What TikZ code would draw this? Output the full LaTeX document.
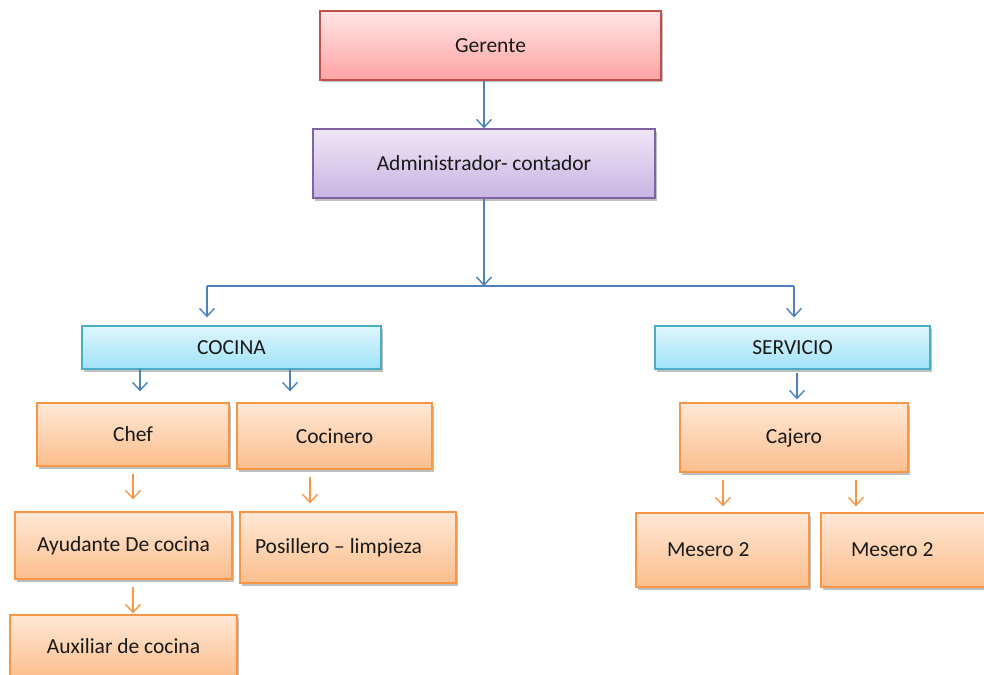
\documentclass[tikz,border=0pt]{standalone}
\usepackage{fontspec}
\setmainfont{Carlito}
\usetikzlibrary{arrows.meta,shadows}

\definecolor{redline}{RGB}{192,80,77}
\definecolor{redtop}{RGB}{255,228,228}
\definecolor{redbot}{RGB}{255,163,163}
\definecolor{purline}{RGB}{128,100,162}
\definecolor{purtop}{RGB}{238,230,246}
\definecolor{purbot}{RGB}{200,180,226}
\definecolor{cyanline}{RGB}{75,172,198}
\definecolor{cyantop}{RGB}{222,246,253}
\definecolor{cyanbot}{RGB}{160,226,248}
\definecolor{orline}{RGB}{247,150,70}
\definecolor{ortop}{RGB}{255,232,214}
\definecolor{orbot}{RGB}{251,190,140}
\definecolor{bluearrow}{RGB}{79,129,189}

\tikzset{
  x=1pt, y=-1pt,
  box/.style={draw, line width=1.3pt, font=\fontsize{21.5}{24}\selectfont,
    inner sep=0pt, text=black!90,
    drop shadow={shadow xshift=1.5pt, shadow yshift=-2.5pt, opacity=0.25, fill=black}},
  redbox/.style={box, draw=redline, top color=redtop, bottom color=redbot},
  purbox/.style={box, draw=purline, top color=purtop, bottom color=purbot},
  cyanbox/.style={box, draw=cyanline, top color=cyantop, bottom color=cyanbot},
  orbox/.style={box, draw=orline, top color=ortop, bottom color=orbot},
  padleft/.style 2 args={align=flush left, text width=#1, inner xsep=#2},
  barrow/.style={draw=bluearrow, line width=1.4pt,
    -{Straight Barb[length=8pt,width=15pt,line width=1.4pt]}},
  bline/.style={draw=bluearrow, line width=1.4pt},
  oarrow/.style={draw=orline, line width=1.4pt,
    -{Straight Barb[length=8pt,width=15pt,line width=1.4pt]}},
}

\begin{document}
\begin{tikzpicture}
\path[use as bounding box] (0,0) rectangle (984,674);
\clip (0,0) rectangle (984,674);

% management
\node[redbox, minimum width=341pt, minimum height=69pt] (ger) at (490.5,45.5) {Gerente};
\node[purbox, minimum width=342pt, minimum height=69pt] (adm) at (484,163.5) {Administrador- contador};

% departments
\node[cyanbox, minimum width=299pt, minimum height=43pt] (coc) at (231.5,347.5) {COCINA};
\node[cyanbox, minimum width=275pt, minimum height=43pt] (ser) at (792.5,347.5) {SERVICIO};

% kitchen staff
\node[orbox, minimum width=192pt, minimum height=63pt] (chef) at (133,434.5) {Chef};
\node[orbox, minimum width=195pt, minimum height=66pt] (cocn) at (334.5,436) {Cocinero};
\node[orbox, minimum width=217pt, minimum height=67pt] (ayu) at (123.5,545.5) {Ayudante De cocina};
\node[orbox, padleft={186pt}{15pt}, minimum height=71pt] (pos) at (348,547.5) {Posillero -- limpieza};
\node[orbox, minimum width=227pt, minimum height=63pt] (aux) at (123.5,646.5) {Auxiliar de cocina};

% service staff
\node[orbox, minimum width=228pt, minimum height=69pt] (caj) at (794,437.5) {Cajero};
\node[orbox, padleft={111pt}{31pt}, minimum height=74pt] (mes1) at (722.5,550) {Mesero 2};
\node[orbox, padleft={111pt}{30pt}, minimum height=74pt] (mes2) at (906.5,550) {Mesero 2};

% branch coordinates under the administrator
\coordinate (bus) at (484,286);
\coordinate (busL) at (207,286);
\coordinate (busR) at (794,286);

% blue connectors
\draw[barrow] (adm.north |- ger.south) -- (adm.north);
\draw[barrow] (adm.south) -- (bus);
\draw[bline] (busL) -- (busR);
\draw[barrow, shorten >=8pt] (busL) -- (busL |- coc.north);
\draw[barrow, shorten >=8pt] (busR) -- (busR |- ser.north);
\draw[barrow, shorten >=11pt] (140,369) coordinate (c1) -- (c1 |- chef.north);
\draw[barrow, shorten >=11pt] (290,369) coordinate (c2) -- (c2 |- cocn.north);
\draw[barrow, shorten <=4pt, shorten >=3pt] (797,369) coordinate (s1) -- (s1 |- caj.north);

% orange connectors
\draw[oarrow, shorten <=7pt, shorten >=12pt] (chef.south) -- (chef.south |- ayu.north);
\draw[oarrow, shorten <=8pt, shorten >=8pt] (310,469) coordinate (k1) -- (k1 |- pos.north);
\draw[oarrow, shorten <=8pt, shorten >=1pt] (133,579) coordinate (a1) -- (a1 |- aux.north);
\draw[oarrow, shorten <=8pt, shorten >=6pt] (723,472) coordinate (m1) -- (m1 |- mes1.north);
\draw[oarrow, shorten <=8pt, shorten >=6pt] (856,472) coordinate (m2) -- (m2 |- mes2.north);
\end{tikzpicture}
\end{document}
